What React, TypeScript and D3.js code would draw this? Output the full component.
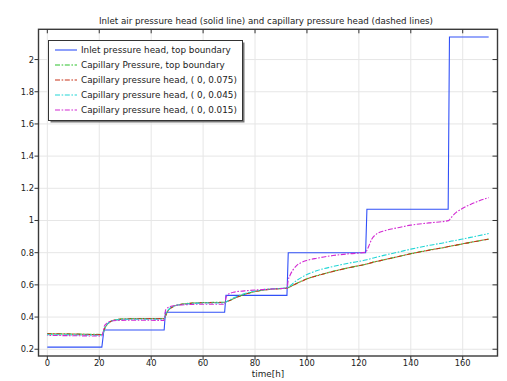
import React from "react";
import * as d3 from "d3";

const TITLE = "Inlet air pressure head (solid line) and capillary pressure head (dashed lines)";
const X_LABEL = "time[h]";
const X_TICKS = [0, 20, 40, 60, 80, 100, 120, 140, 160];
const Y_TICKS = [0.2, 0.4, 0.6, 0.8, 1, 1.2, 1.4, 1.6, 1.8, 2];

const SERIES_NAMES = [
  "Inlet pressure head, top boundary",
  "Capillary Pressure, top boundary",
  "Capillary pressure head, ( 0, 0.075)",
  "Capillary pressure head, ( 0, 0.045)",
  "Capillary pressure head, ( 0, 0.015)",
];

// Inlet pressure head (step function)
const inletTime = [0, 21, 21.8, 45, 45.5, 68.3, 68.8, 92.3, 92.8, 122.6, 123.1, 154.4, 154.9, 170];
const inletHead = [0.213, 0.213, 0.32, 0.32, 0.43, 0.43, 0.535, 0.535, 0.8, 0.8, 1.07, 1.07, 2.14, 2.14];

// Capillary series share a time axis
const capTime = [
  0, 10, 21, 21.5, 22, 23, 24, 25.5, 28, 32, 38, 45, 45.5, 46, 47, 48.5, 51, 55, 60, 68.3, 68.8, 69.5,
  70.5, 72, 74, 77, 81, 86, 92.3, 92.8, 93.5, 94.5, 96, 98, 100, 104, 110, 116, 122.6, 123.1, 123.8,
  125, 127, 130, 135, 140, 147, 154.5, 155, 156, 157.5, 160, 163, 166, 170,
];
const capTop = [
  0.297, 0.295, 0.292, 0.301, 0.326, 0.353, 0.369, 0.381, 0.387, 0.39, 0.391, 0.391, 0.406, 0.426,
  0.449, 0.466, 0.478, 0.486, 0.49, 0.492, 0.495, 0.499, 0.505, 0.516, 0.53, 0.546, 0.562, 0.573,
  0.58, 0.583, 0.588, 0.597, 0.609, 0.624, 0.638, 0.658, 0.684, 0.706, 0.728, 0.73, 0.733, 0.739,
  0.746, 0.757, 0.775, 0.794, 0.816, 0.838, 0.84, 0.843, 0.847, 0.855, 0.864, 0.873, 0.884,
];
const cap075 = [
  0.296, 0.294, 0.291, 0.3, 0.325, 0.352, 0.368, 0.38, 0.386, 0.389, 0.39, 0.39, 0.405, 0.425, 0.448,
  0.465, 0.477, 0.485, 0.489, 0.491, 0.494, 0.498, 0.505, 0.516, 0.53, 0.546, 0.562, 0.573, 0.58,
  0.583, 0.588, 0.597, 0.609, 0.623, 0.637, 0.657, 0.683, 0.706, 0.728, 0.73, 0.733, 0.738, 0.746,
  0.757, 0.775, 0.793, 0.815, 0.838, 0.84, 0.843, 0.847, 0.855, 0.864, 0.873, 0.884,
];
const cap045 = [
  0.291, 0.289, 0.287, 0.298, 0.326, 0.354, 0.369, 0.379, 0.384, 0.386, 0.386, 0.386, 0.412, 0.432,
  0.452, 0.466, 0.476, 0.483, 0.487, 0.488, 0.493, 0.5, 0.509, 0.521, 0.535, 0.55, 0.565, 0.575,
  0.581, 0.586, 0.594, 0.608, 0.627, 0.647, 0.664, 0.689, 0.714, 0.735, 0.754, 0.756, 0.759, 0.765,
  0.773, 0.785, 0.803, 0.822, 0.845, 0.868, 0.87, 0.873, 0.877, 0.885, 0.895, 0.905, 0.919,
];
const cap015 = [
  0.286, 0.284, 0.282, 0.31, 0.345, 0.362, 0.372, 0.377, 0.379, 0.38, 0.38, 0.379, 0.44, 0.452, 0.463,
  0.47, 0.475, 0.478, 0.48, 0.48, 0.52, 0.538, 0.548, 0.555, 0.56, 0.564, 0.569, 0.574, 0.58, 0.63,
  0.66, 0.69, 0.72, 0.74, 0.752, 0.766, 0.782, 0.793, 0.802, 0.815, 0.84, 0.885, 0.918, 0.937, 0.955,
  0.971, 0.985, 0.999, 1.006, 1.026, 1.05, 1.076, 1.1, 1.12, 1.142,
];

const COLORS = ["#3050f8", "#2cc22c", "#c83218", "#22d6d6", "#d22ad2"];
const DASH = "5,1.6,1.6,1.6";

const W = 507;
const H = 381;
const PL = 38.5;
const PR = 497.5;
const PT = 29.3;
const PB = 356;
const FONT = "DejaVu Sans";

export default function App() {
  const x = d3.scaleLinear().domain([-3.4, 173.4]).range([PL, PR]);
  const y = d3.scaleLinear().domain([0.158, 2.188]).range([PB, PT]);

  const stepLine = d3
    .line<number>()
    .x((_, i) => x(inletTime[i]))
    .y((d) => y(d))
    .curve(d3.curveLinear);
  const capLine = d3
    .line<number>()
    .x((_, i) => x(capTime[i]))
    .y((d) => y(d))
    .curve(d3.curveMonotoneX);

  const capSeries = [capTop, cap075, cap045, cap015];
  const fmt = (v: number) => String(+v.toFixed(1));

  const legX = 48.5;
  const legY = 40.5;
  const legW = 194;
  const legH = 80;

  return (
    <div style={{ position: "fixed", left: 0, top: 0, width: W, height: H, background: "#fff" }}>
      <svg width={W} height={H} style={{ display: "block" }} fontFamily={FONT}>
        <rect x={0} y={0} width={W} height={H} fill="#fff" />
        {/* grid */}
        {X_TICKS.map((t) => (
          <line key={"gx" + t} x1={x(t)} x2={x(t)} y1={PT} y2={PB} stroke="#e6e6e6" strokeWidth={1} />
        ))}
        {Y_TICKS.map((t) => (
          <line key={"gy" + t} x1={PL} x2={PR} y1={y(t)} y2={y(t)} stroke="#e6e6e6" strokeWidth={1} />
        ))}
        <defs>
          <clipPath id="plotclip">
            <rect x={PL} y={PT} width={PR - PL} height={PB - PT} />
          </clipPath>
        </defs>
        <g clipPath="url(#plotclip)" fill="none">
          <path d={stepLine(inletHead) || ""} stroke={COLORS[0]} strokeWidth={1.1} />
          {capSeries.map((s, i) => (
            <path
              key={"c" + i}
              d={capLine(s) || ""}
              stroke={COLORS[i + 1]}
              strokeWidth={1.1}
              strokeDasharray={DASH}
              strokeDashoffset={i * 1.5}
            />
          ))}
        </g>
        {/* frame */}
        <rect x={PL} y={PT} width={PR - PL} height={PB - PT} fill="none" stroke="#3a3a3a" strokeWidth={1.4} />
        {/* ticks */}
        {X_TICKS.map((t) => (
          <g key={"tx" + t}>
            <line x1={x(t)} x2={x(t)} y1={PB} y2={PB + 4} stroke="#333" strokeWidth={1} />
            <line x1={x(t)} x2={x(t)} y1={PT} y2={PT + 4} stroke="#333" strokeWidth={1} />
            <text x={x(t)} y={366} fontSize={8.3} textAnchor="middle" fill="#222">
              {fmt(t)}
            </text>
          </g>
        ))}
        {Y_TICKS.map((t) => (
          <g key={"ty" + t}>
            <line x1={PL - 4} x2={PL} y1={y(t)} y2={y(t)} stroke="#333" strokeWidth={1} />
            <line x1={PR - 5} x2={PR} y1={y(t)} y2={y(t)} stroke="#333" strokeWidth={1} />
            <text x={34} y={y(t) + 3} fontSize={8.3} textAnchor="end" fill="#222">
              {fmt(t)}
            </text>
          </g>
        ))}
        <text x={268} y={377} fontSize={8.8} textAnchor="middle" fill="#222">
          {X_LABEL}
        </text>
        <text x={266} y={24} fontSize={8.7} textAnchor="middle" fill="#222">
          {TITLE}
        </text>
        {/* legend */}
        <rect x={legX + 2} y={legY + 2} width={legW} height={legH} fill="#777" />
        <rect x={legX} y={legY} width={legW} height={legH} fill="#fff" stroke="#333" strokeWidth={1} />
        {SERIES_NAMES.map((name, i) => {
          const ly = 50 + i * 15;
          return (
            <g key={"lg" + i}>
              <line
                x1={55}
                x2={77}
                y1={ly}
                y2={ly}
                stroke={COLORS[i]}
                strokeWidth={1.1}
                strokeDasharray={i === 0 ? undefined : DASH}
              />
              <text x={81} y={ly + 3.2} fontSize={8.8} fill="#222">
                {name}
              </text>
            </g>
          );
        })}
      </svg>
    </div>
  );
}
